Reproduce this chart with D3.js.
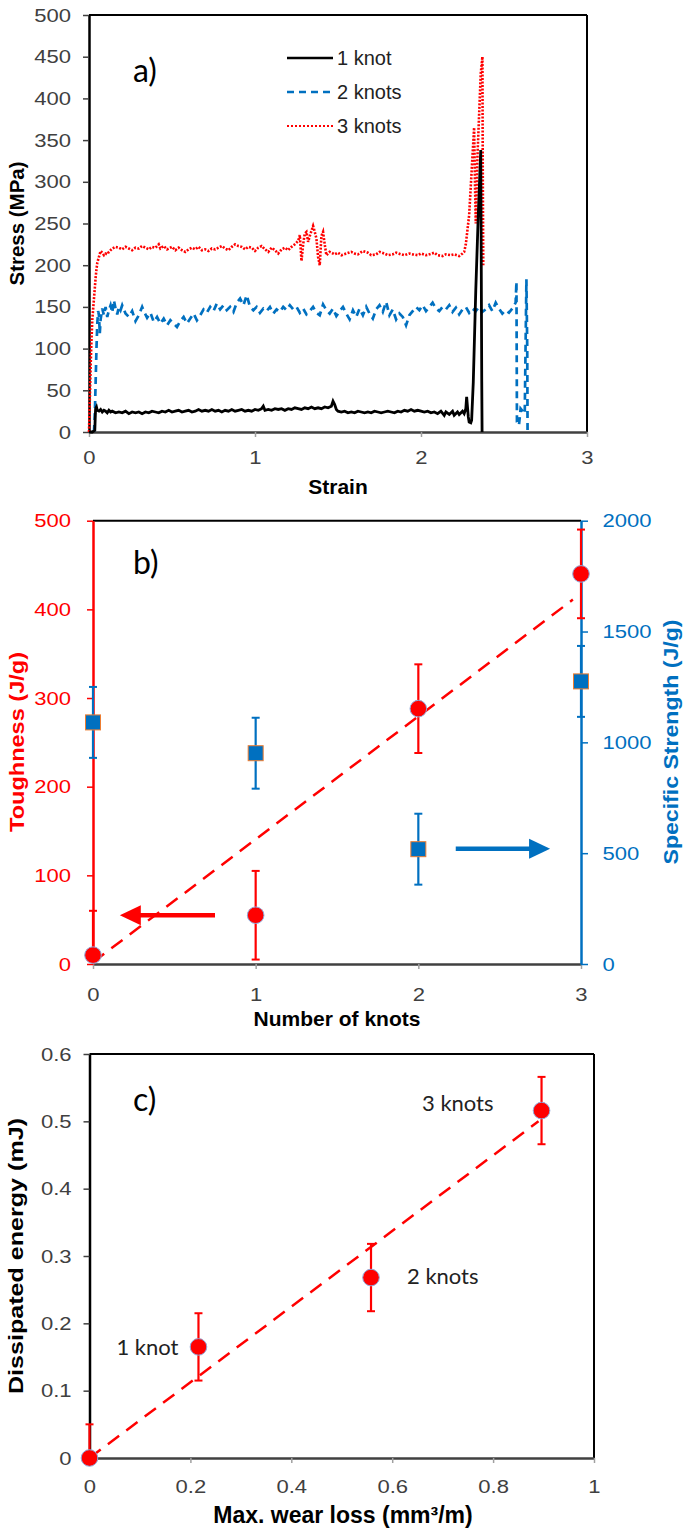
<!DOCTYPE html>
<html><head><meta charset="utf-8">
<script src="https://cdn.jsdelivr.net/npm/d3@7"></script>
<style>body{margin:0;background:#fff}</style></head>
<body><svg id="c" width="684" height="1532"></svg>
<script>
// ---------------- DATA ----------------
// Panel a: stress-strain curves [strain, stress MPa]
const curve1Knot = [[0,0],[0.02,0],[0.035,2],[0.038,20],[0.04,28],[0.045,30],[0.05,26],[0.06,25],[0.07,27],[0.08,24],[0.09,26],[0.1,25],[0.11,23],[0.12,26],[0.13,24],[0.14,25],[0.16,23],[0.18,24],[0.2,23],[0.22,25],[0.24,22],[0.26,24],[0.28,23],[0.3,24],[0.32,22],[0.34,24],[0.36,23],[0.38,25],[0.4,24],[0.42,23],[0.44,25],[0.46,24],[0.48,26],[0.5,24],[0.52,25],[0.54,26],[0.56,24],[0.58,25],[0.6,26],[0.62,24],[0.64,25],[0.66,27],[0.68,25],[0.7,26],[0.72,25],[0.74,27],[0.76,25],[0.78,26],[0.8,24],[0.82,26],[0.84,25],[0.86,27],[0.88,25],[0.9,26],[0.92,27],[0.94,25],[0.96,26],[0.98,25],[1.0,27],[1.02,26],[1.04,28],[1.05,31],[1.06,26],[1.08,27],[1.1,26],[1.12,28],[1.14,27],[1.16,28],[1.18,26],[1.2,28],[1.22,27],[1.24,29],[1.26,28],[1.28,27],[1.3,29],[1.32,28],[1.34,30],[1.36,28],[1.38,29],[1.4,28],[1.42,30],[1.44,29],[1.46,31],[1.47,37],[1.48,33],[1.49,27],[1.5,25],[1.52,24],[1.54,25],[1.56,23],[1.58,24],[1.6,23],[1.62,25],[1.64,24],[1.66,23],[1.68,24],[1.7,23],[1.72,25],[1.74,24],[1.76,23],[1.78,24],[1.8,25],[1.82,24],[1.84,23],[1.86,25],[1.88,24],[1.9,26],[1.92,25],[1.94,27],[1.96,25],[1.98,26],[2.0,25],[2.02,24],[2.04,25],[2.06,23],[2.08,24],[2.1,22],[2.12,25],[2.14,20],[2.15,24],[2.17,21],[2.19,25],[2.2,20],[2.22,24],[2.23,21],[2.25,25],[2.26,22],[2.27,28],[2.275,42],[2.28,30],[2.285,18],[2.29,12],[2.3,11],[2.305,14],[2.315,60],[2.33,170],[2.345,260],[2.36,338],[2.363,200],[2.366,60],[2.368,0]];

const curve2Knots = [[0.03,0],[0.035,20],[0.04,60],[0.045,100],[0.05,130],[0.055,145],[0.06,140],[0.065,118],[0.07,135],[0.08,148],[0.09,140],[0.1,150],[0.11,138],[0.12,146],[0.13,152],[0.14,143],[0.15,158],[0.16,148],[0.17,141],[0.18,150],[0.19,146],[0.2,152],[0.22,142],[0.24,138],[0.26,145],[0.28,133],[0.3,140],[0.32,150],[0.33,145],[0.35,137],[0.37,143],[0.39,132],[0.41,138],[0.43,130],[0.45,136],[0.47,128],[0.49,134],[0.51,130],[0.53,126],[0.55,133],[0.57,138],[0.59,130],[0.61,136],[0.63,142],[0.65,134],[0.67,140],[0.69,147],[0.71,143],[0.73,150],[0.75,145],[0.77,154],[0.79,147],[0.81,152],[0.83,146],[0.85,150],[0.87,144],[0.89,155],[0.91,160],[0.93,152],[0.95,164],[0.97,150],[0.99,146],[1.01,150],[1.03,143],[1.05,148],[1.07,145],[1.09,150],[1.11,142],[1.13,147],[1.15,144],[1.17,150],[1.19,146],[1.21,152],[1.23,147],[1.25,150],[1.27,143],[1.29,148],[1.31,141],[1.33,145],[1.35,150],[1.37,143],[1.39,140],[1.41,153],[1.43,146],[1.45,142],[1.47,148],[1.49,139],[1.51,145],[1.53,150],[1.55,142],[1.57,135],[1.59,146],[1.61,138],[1.63,148],[1.65,140],[1.67,150],[1.69,142],[1.71,136],[1.73,147],[1.75,152],[1.77,144],[1.79,156],[1.81,140],[1.83,147],[1.85,135],[1.87,142],[1.89,138],[1.91,128],[1.93,140],[1.95,145],[1.97,150],[1.99,146],[2.01,152],[2.03,145],[2.05,150],[2.07,155],[2.09,148],[2.11,145],[2.13,150],[2.15,147],[2.17,152],[2.19,144],[2.21,149],[2.23,141],[2.25,147],[2.27,150],[2.29,143],[2.31,148],[2.33,145],[2.35,150],[2.37,144],[2.39,147],[2.41,152],[2.43,145],[2.45,155],[2.47,148],[2.49,142],[2.51,146],[2.53,143],[2.55,148],[2.57,155],[2.575,180],[2.578,12],[2.59,8],[2.6,28],[2.625,22],[2.635,183],[2.64,100],[2.642,0]];

const curve3Knots = [[0,0],[0.005,40],[0.01,80],[0.015,110],[0.02,135],[0.03,160],[0.04,185],[0.045,195],[0.05,203],[0.06,210],[0.07,217],[0.08,215],[0.09,212],[0.1,214],[0.11,213],[0.12,216],[0.14,220],[0.16,222],[0.18,221],[0.2,219],[0.22,222],[0.24,220],[0.26,218],[0.28,221],[0.3,220],[0.32,223],[0.34,221],[0.36,219],[0.38,222],[0.4,221],[0.42,225],[0.43,220],[0.45,223],[0.47,219],[0.5,222],[0.52,218],[0.54,221],[0.56,218],[0.58,216],[0.6,219],[0.62,221],[0.64,219],[0.66,222],[0.68,218],[0.7,219],[0.72,217],[0.74,220],[0.76,219],[0.78,221],[0.8,223],[0.82,220],[0.84,218],[0.86,222],[0.88,225],[0.9,223],[0.92,222],[0.94,219],[0.96,222],[0.98,221],[1.0,217],[1.02,221],[1.04,223],[1.06,219],[1.08,216],[1.1,221],[1.12,218],[1.14,214],[1.16,219],[1.18,221],[1.2,218],[1.22,222],[1.24,225],[1.26,229],[1.27,236],[1.28,205],[1.29,225],[1.3,238],[1.31,240],[1.32,228],[1.33,235],[1.35,247],[1.36,240],[1.37,232],[1.38,210],[1.39,200],[1.4,235],[1.41,240],[1.42,225],[1.43,212],[1.45,216],[1.48,213],[1.5,215],[1.52,212],[1.55,214],[1.58,216],[1.6,214],[1.62,213],[1.65,217],[1.68,215],[1.7,212],[1.73,213],[1.75,216],[1.78,214],[1.8,212],[1.83,213],[1.85,215],[1.88,213],[1.9,212],[1.93,214],[1.95,213],[1.98,212],[2.0,214],[2.03,212],[2.05,213],[2.08,215],[2.1,212],[2.13,211],[2.15,213],[2.18,212],[2.2,213],[2.23,211],[2.25,214],[2.26,216],[2.27,225],[2.29,260],[2.31,330],[2.32,365],[2.325,300],[2.33,250],[2.34,330],[2.35,380],[2.36,430],[2.37,450],[2.372,320],[2.375,200]];

const seriesNames = ["1 knot", "2 knots", "3 knots"];
const stressTicks = [0,50,100,150,200,250,300,350,400,450,500];
const strainTicks = [0,1,2,3];

// Panel b
const knots = [0,1,2,3];
const toughness = [10,55,288,440];
const toughnessErr = [50,50,50,50];
const specStrength = [1090,951,518,1275];
const specStrengthErr = [160,160,160,160];
const toughnessTrend = [[0,2],[2.95,411]];
const toughTicks = [0,100,200,300,400,500];
const strengthTicks = [0,500,1000,1500,2000];
const arrowLeft = {y:55, from:0.75, to:0.165};     // toughness axis
const arrowRight = {y:520, from:2.23, to:2.81};    // specific strength axis

// Panel c
const wearLoss = [0,0.216,0.558,0.896];
const energy = [0,0.165,0.268,0.516];
const energyErr = [0.05,0.05,0.05,0.05];
const pointLabels = ["", "1 knot", "2 knots", "3 knots"];
const energyTrend = [[0,0],[0.89,0.50]];
const energyTicks = [0,0.1,0.2,0.3,0.4,0.5,0.6];
const wearTicks = [0,0.2,0.4,0.6,0.8,1];

// ---------------- DRAW ----------------
const RED = "#FF0000", BLUE = "#0070C0", DARK = "#404040", GRAY = "#A0A0A0";
const FONT = "'Liberation Sans', Arial, sans-serif";
const CAL = "Lato, 'Open Sans', sans-serif";
const svg = d3.select("#c");
svg.append("rect").attr("width",684).attr("height",1532).attr("fill","#fff");
const fmt = d => String(+d.toFixed(2));

function styleAxis(g, lineColor, tickColor, textColor, lw) {
  g.select(".domain").attr("stroke", lineColor).attr("stroke-width", lw || 2);
  g.selectAll(".tick line").attr("stroke", tickColor).attr("stroke-width", 1.5);
  g.selectAll(".tick text").attr("fill", textColor).attr("font-size", 19)
    .attr("font-family", FONT).attr("transform", "scale(1.16,1)");
}
function vTitle(x, cy, text, len, color, size) {
  svg.append("text").attr("transform", `translate(${x},${cy}) rotate(-90)`)
    .attr("text-anchor","middle").attr("font-weight","bold").attr("font-size",size||21)
    .attr("font-family",FONT).attr("fill",color).attr("textLength",len)
    .attr("lengthAdjust","spacingAndGlyphs").text(text);
}
function hTitle(cx, y, text, color, size) {
  svg.append("text").attr("x",cx).attr("y",y).attr("text-anchor","middle")
    .attr("font-weight","bold").attr("font-size",size||21).attr("font-family",FONT)
    .attr("fill",color||"#000").text(text);
}
function panelLabel(x, y, t) {
  svg.append("text").attr("x",x).attr("y",y).attr("font-size",32).attr("font-family",CAL).attr("fill","#000").text(t);
}
function errorBars(g, xs, ys, es, x, y, color, ymin) {
  xs.forEach((xv,i) => {
    const lo = Math.max(ymin, ys[i]-es[i]), hi = ys[i]+es[i];
    g.append("line").attr("x1",x(xv)).attr("x2",x(xv)).attr("y1",y(lo)).attr("y2",y(hi))
      .attr("stroke",color).attr("stroke-width",2.2);
    g.append("line").attr("x1",x(xv)-4).attr("x2",x(xv)+4).attr("y1",y(hi)).attr("y2",y(hi))
      .attr("stroke",color).attr("stroke-width",2);
    if (ys[i]-es[i] >= ymin)
      g.append("line").attr("x1",x(xv)-4).attr("x2",x(xv)+4).attr("y1",y(lo)).attr("y2",y(lo))
        .attr("stroke",color).attr("stroke-width",2);
  });
}

// ===== Panel a =====
{
  const x = d3.scaleLinear().domain([0,3]).range([89,587]);
  const y = d3.scaleLinear().domain([0,500]).range([432,15]);
  const g = svg.append("g");
  g.append("line").attr("x1",x(0)).attr("x2",x(3)).attr("y1",y(500)).attr("y2",y(500)).attr("stroke","#000").attr("stroke-width",2);
  g.append("line").attr("x1",x(3)).attr("x2",x(3)).attr("y1",y(500)).attr("y2",y(0)).attr("stroke","#000").attr("stroke-width",2);
  const ax = g.append("g").attr("transform",`translate(0,${y(0)})`)
    .call(d3.axisBottom(x).tickValues(strainTicks).tickFormat(fmt).tickSize(5).tickSizeOuter(0).tickPadding(14));
  styleAxis(ax, DARK, GRAY, DARK, 2.5);
  const ay = g.append("g").attr("transform",`translate(${x(0)},0)`)
    .call(d3.axisLeft(y).tickValues(stressTicks).tickFormat(fmt).tickSize(6).tickSizeOuter(0).tickPadding(9.5));
  styleAxis(ay, "#000", DARK, DARK, 2.5);

  const line = d3.line().x(d=>x(d[0])).y(d=>y(d[1]));
  g.append("path").datum(curve2Knots).attr("d",line).attr("fill","none").attr("stroke",BLUE).attr("stroke-width",2.7).attr("stroke-dasharray","7,5");
  g.append("path").datum(curve3Knots).attr("d",line).attr("fill","none").attr("stroke",RED).attr("stroke-width",2.6).attr("stroke-dasharray","2,1.5");
  g.append("path").datum(curve1Knot).attr("d",line).attr("fill","none").attr("stroke","#000").attr("stroke-width",2.8);

  const styles = [{c:"#000",d:null,w:2.5},{c:BLUE,d:"7,5",w:2.5},{c:RED,d:"2,2",w:2.2}];
  seriesNames.forEach((n,i) => {
    const ly = 58 + i*34;
    g.append("line").attr("x1",287).attr("x2",333).attr("y1",ly).attr("y2",ly)
      .attr("stroke",styles[i].c).attr("stroke-width",styles[i].w).attr("stroke-dasharray",styles[i].d);
    g.append("text").attr("x",337).attr("y",ly+7).attr("font-size",20).attr("font-family",FONT).attr("fill","#222").text(n);
  });
  panelLabel(133, 82, "a)");
  vTitle(24, 223.5, "Stress (MPa)", 124, "#000", 20);
  hTitle(338, 494, "Strain");
}

// ===== Panel b =====
{
  const x = d3.scaleLinear().domain([0,3]).range([93,581]);
  const yL = d3.scaleLinear().domain([0,500]).range([964,520.7]);
  const yR = d3.scaleLinear().domain([0,2000]).range([964,520.7]);
  const g = svg.append("g");
  g.append("line").attr("x1",x(0)).attr("x2",x(3)).attr("y1",yL(500)).attr("y2",yL(500)).attr("stroke","#000").attr("stroke-width",2);
  const ax = g.append("g").attr("transform",`translate(0,${yL(0)})`)
    .call(d3.axisBottom(x).tickValues(knots).tickFormat(fmt).tickSize(5).tickSizeOuter(0).tickPadding(19));
  styleAxis(ax, DARK, GRAY, DARK, 2.5);
  const al = g.append("g").attr("transform",`translate(${x(0)},0)`)
    .call(d3.axisLeft(yL).tickValues(toughTicks).tickFormat(fmt).tickSize(6).tickSizeOuter(0).tickPadding(13));
  styleAxis(al, RED, RED, RED, 2.5);
  const ar = g.append("g").attr("transform",`translate(${x(3)},0)`)
    .call(d3.axisRight(yR).tickValues(strengthTicks).tickFormat(fmt).tickSize(7).tickSizeOuter(0).tickPadding(11.5));
  styleAxis(ar, BLUE, BLUE, BLUE, 2.5);

  errorBars(g, knots, specStrength, specStrengthErr, x, yR, BLUE, 0);
  errorBars(g, knots, toughness, toughnessErr, x, yL, RED, 0);
  g.append("line").attr("x1",x(toughnessTrend[0][0])).attr("y1",yL(toughnessTrend[0][1]))
    .attr("x2",x(toughnessTrend[1][0])).attr("y2",yL(toughnessTrend[1][1]))
    .attr("stroke",RED).attr("stroke-width",2.5).attr("stroke-dasharray","14,9");
  g.selectAll(".sq").data(knots).join("rect")
    .attr("x",(d,i)=>x(d)-7.5).attr("y",(d,i)=>yR(specStrength[i])-7.5).attr("width",15).attr("height",15)
    .attr("fill",BLUE).attr("stroke","#ED7D31").attr("stroke-width",1);
  g.selectAll(".ci").data(knots).join("circle")
    .attr("cx",d=>x(d)).attr("cy",(d,i)=>yL(toughness[i])).attr("r",8.3)
    .attr("fill",RED).attr("stroke","#8faadc").attr("stroke-width",1);

  const ya = yL(arrowLeft.y);
  g.append("line").attr("x1",x(arrowLeft.from)).attr("x2",x(arrowLeft.to)+18).attr("y1",ya).attr("y2",ya).attr("stroke",RED).attr("stroke-width",4.5);
  g.append("path").attr("d",`M${x(arrowLeft.to)},${ya} L${x(arrowLeft.to)+21},${ya-10} L${x(arrowLeft.to)+21},${ya+10} Z`).attr("fill",RED);
  const yb = yR(arrowRight.y);
  g.append("line").attr("x1",x(arrowRight.from)).attr("x2",x(arrowRight.to)-18).attr("y1",yb).attr("y2",yb).attr("stroke",BLUE).attr("stroke-width",4.5);
  g.append("path").attr("d",`M${x(arrowRight.to)},${yb} L${x(arrowRight.to)-21},${yb-10} L${x(arrowRight.to)-21},${yb+10} Z`).attr("fill",BLUE);

  panelLabel(133, 574, "b)");
  vTitle(24, 742, "Toughness (J/g)", 180, RED, 21);
  vTitle(678, 742, "Specific Strength (J/g)", 245, BLUE, 21);
  hTitle(337, 1026, "Number of knots");
}

// ===== Panel c =====
{
  const x = d3.scaleLinear().domain([0,1]).range([89.5,594]);
  const y = d3.scaleLinear().domain([0,0.6]).range([1458,1054]);
  const g = svg.append("g");
  g.append("line").attr("x1",x(0)).attr("x2",x(1)).attr("y1",y(0.6)).attr("y2",y(0.6)).attr("stroke","#000").attr("stroke-width",2);
  g.append("line").attr("x1",x(1)).attr("x2",x(1)).attr("y1",y(0.6)).attr("y2",y(0)).attr("stroke","#000").attr("stroke-width",2);
  const ax = g.append("g").attr("transform",`translate(0,${y(0)})`)
    .call(d3.axisBottom(x).tickValues(wearTicks).tickFormat(fmt).tickSize(5).tickSizeOuter(0).tickPadding(16.5));
  styleAxis(ax, DARK, GRAY, DARK, 2.5);
  const ay = g.append("g").attr("transform",`translate(${x(0)},0)`)
    .call(d3.axisLeft(y).tickValues(energyTicks).tickFormat(fmt).tickSize(6).tickSizeOuter(0).tickPadding(9.5));
  styleAxis(ay, "#000", DARK, DARK, 2.5);

  errorBars(g, wearLoss, energy, energyErr, x, y, RED, 0);
  g.append("line").attr("x1",x(energyTrend[0][0])).attr("y1",y(energyTrend[0][1]))
    .attr("x2",x(energyTrend[1][0])).attr("y2",y(energyTrend[1][1]))
    .attr("stroke",RED).attr("stroke-width",2.5).attr("stroke-dasharray","14,9");
  g.selectAll(".ci").data(wearLoss).join("circle")
    .attr("cx",d=>x(d)).attr("cy",(d,i)=>y(energy[i])).attr("r",8.3)
    .attr("fill",RED).attr("stroke","#8faadc").attr("stroke-width",1);
  const offs = [null, {dx:-20,dy:8,a:"end"}, {dx:36,dy:6,a:"start"}, {dx:-48,dy:-0,a:"end"}];
  pointLabels.forEach((t,i) => {
    if (!t) return;
    g.append("text").attr("x",x(wearLoss[i])+offs[i].dx).attr("y",y(energy[i])+offs[i].dy)
      .attr("text-anchor",offs[i].a).attr("font-size",22).attr("font-family",CAL).attr("fill","#222").text(t);
  });
  panelLabel(133, 1111, "c)");
  vTitle(23, 1256, "Dissipated energy (mJ)", 276, "#000", 21);
  hTitle(343, 1523, "Max. wear loss (mm³/m)", "#000", 23);
}
</script></body></html>
